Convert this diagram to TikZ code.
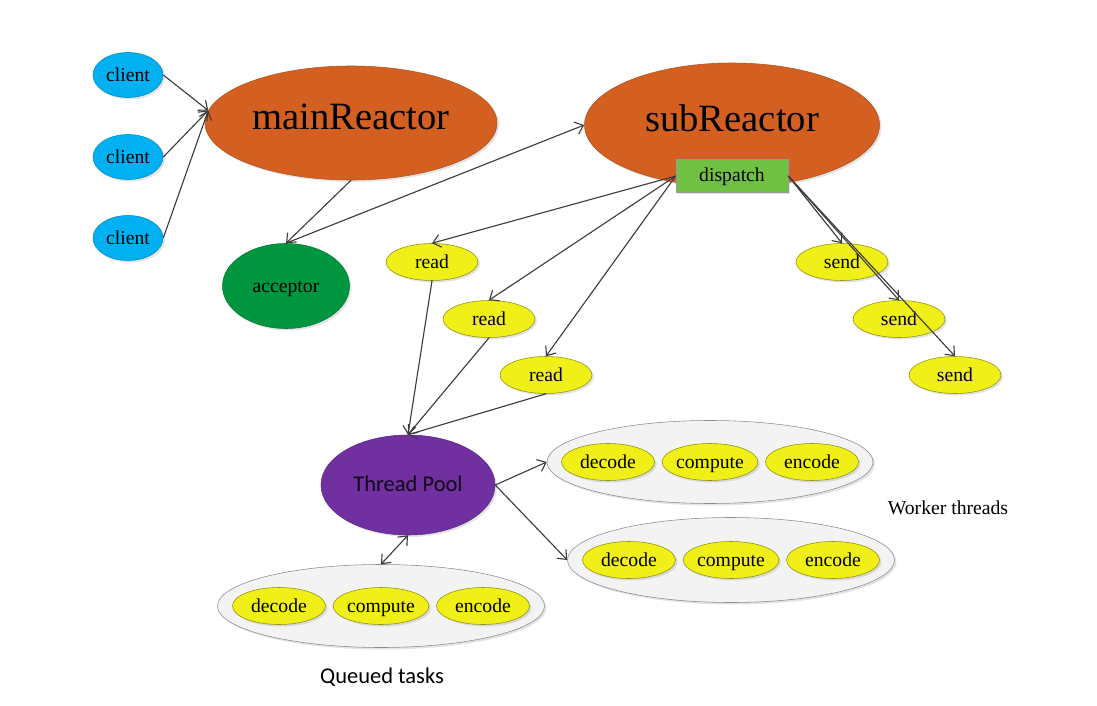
\documentclass[tikz,border=0pt]{standalone}
\usepackage{fontspec}
\setmainfont{Liberation Serif}
\newfontfamily\calibri{Carlito}
\usepackage{tikz}
\usetikzlibrary{arrows.meta,shapes,positioning,shadows}
\usepackage{xcolor}
\definecolor{rcblue}{RGB}{0,176,240}
\definecolor{rcorange}{RGB}{211,96,33}
\definecolor{rcgreen}{RGB}{0,150,64}
\definecolor{rclightgreen}{RGB}{112,192,68}
\definecolor{rcyellow}{RGB}{240,240,24}
\definecolor{rcpurple}{RGB}{112,48,160}
\definecolor{rcgray}{RGB}{60,60,60}
\definecolor{rcgroup}{RGB}{243,243,243}
\tikzstyle{barb} = [>={Straight Barb[length=1.9mm,width=3.2mm]}]
\tikzstyle{link} = [barb, draw=rcgray, line width=0.8pt, ->]
\tikzstyle{softshadow} = [drop shadow={opacity=0.22, shadow xshift=0.05cm, shadow yshift=-0.05cm}]
\tikzstyle{blob} = [ellipse, inner sep=0pt, text centered, text height=0.88em, text depth=0pt, softshadow, font=\fontsize{14}{16}\selectfont]
\tikzstyle{clientbox} = [blob, minimum width=1.75cm, minimum height=1.125cm, fill=rcblue, draw=rcblue!80!black]
\tikzstyle{reactorbox} = [blob, fill=rcorange, draw=rcorange!85!black, font=\fontsize{27.5}{30}\selectfont]
\tikzstyle{iobox} = [blob, minimum width=2.3cm, minimum height=0.925cm, fill=rcyellow, draw=rcyellow!60!black]
\tikzstyle{taskbox} = [blob, minimum width=2.325cm, minimum height=0.925cm, fill=rcyellow, draw=rcyellow!60!black]
\tikzstyle{groupbox} = [ellipse, inner sep=0pt, minimum width=8.15cm, minimum height=2.075cm, fill=rcgroup, draw=black!45, softshadow]

\begin{document}
\begin{tikzpicture}
\useasboundingbox (0,0) rectangle (27.425,17.625);

% Clients and reactors
\node[clientbox] (c1) at (3.2,15.75) {client};
\node[clientbox] (c2) at (3.2,13.7) {client};
\node[clientbox] (c3) at (3.2,11.675) {client};
\node[reactorbox, minimum width=7.3cm, minimum height=2.85cm] (main) at (8.775,14.55) {mainReactor};
\node[blob, minimum width=3.175cm, minimum height=2.125cm, fill=rcgreen, draw=rcgreen!80!black] (acc) at (7.15,10.475) {acceptor};
\node[reactorbox, minimum width=7.375cm, minimum height=3.1cm] (sub) at (18.3,14.5) {subReactor};
\node[rectangle, minimum width=2.8cm, minimum height=0.825cm, text height=0.8em, text depth=0pt, fill=rclightgreen, draw=black!40, softshadow, font=\fontsize{14}{16}\selectfont] (disp) at (18.3,13.225) {dispatch};

% Read and send
\node[iobox] (r1) at (10.8,11.075) {read};
\node[iobox] (r2) at (12.225,9.65) {read};
\node[iobox] (r3) at (13.65,8.25) {read};
\node[iobox] (s1) at (21.05,11.075) {send};
\node[iobox] (s2) at (22.475,9.65) {send};
\node[iobox] (s3) at (23.875,8.25) {send};

% Thread pool
\node[blob, minimum width=4.35cm, minimum height=2.5cm, fill=rcpurple, draw=rcpurple!85!black, text=black!85!rcpurple, font=\calibri\fontsize{16}{18}\selectfont] (pool) at (10.2,5.5) {Thread Pool};

% Worker threads
\node[groupbox] (w1) at (17.75,6.075) {};
\node[taskbox] at (15.2,6.075) {decode};
\node[taskbox] at (17.75,6.075) {compute};
\node[taskbox] at (20.3,6.075) {encode};
\node[groupbox, minimum width=8.175cm, minimum height=2.125cm] (w2) at (18.275,3.625) {};
\node[taskbox] at (15.725,3.625) {decode};
\node[taskbox] at (18.275,3.625) {compute};
\node[taskbox] at (20.825,3.625) {encode};
\node[font=\fontsize{14}{16}\selectfont] (wlabel) at (23.7,4.925) {Worker threads};

% Queued tasks
\node[groupbox, minimum width=8.175cm] (q) at (9.525,2.475) {};
\node[taskbox] at (6.975,2.475) {decode};
\node[taskbox] at (9.525,2.475) {compute};
\node[taskbox] at (12.075,2.475) {encode};
\node[font=\calibri\fontsize{16}{18}\selectfont] (qlabel) at (9.55,0.7) {Queued tasks};

% Arrows
\foreach \c in {c1,c2,c3}
  \draw[link] (\c.east) -- (main.175);
\draw[link] (main.south) -- (acc.north);
\draw[link] (acc.north) -- (sub.west);
\foreach \r in {r1,r2,r3}
  \draw[link] (disp.west) -- (\r.north);
\foreach \r in {r1,r2,r3}
  \draw[link] (\r.south) -- (pool.north);
\foreach \s in {s1,s2,s3}
  \draw[link] (disp.east) -- (\s.north);
\draw[link] (pool.east) -- (w1.west);
\draw[link] (pool.east) -- (w2.west);
\draw[link, <->] (pool.south) -- (q.north);
\end{tikzpicture}
\end{document}
